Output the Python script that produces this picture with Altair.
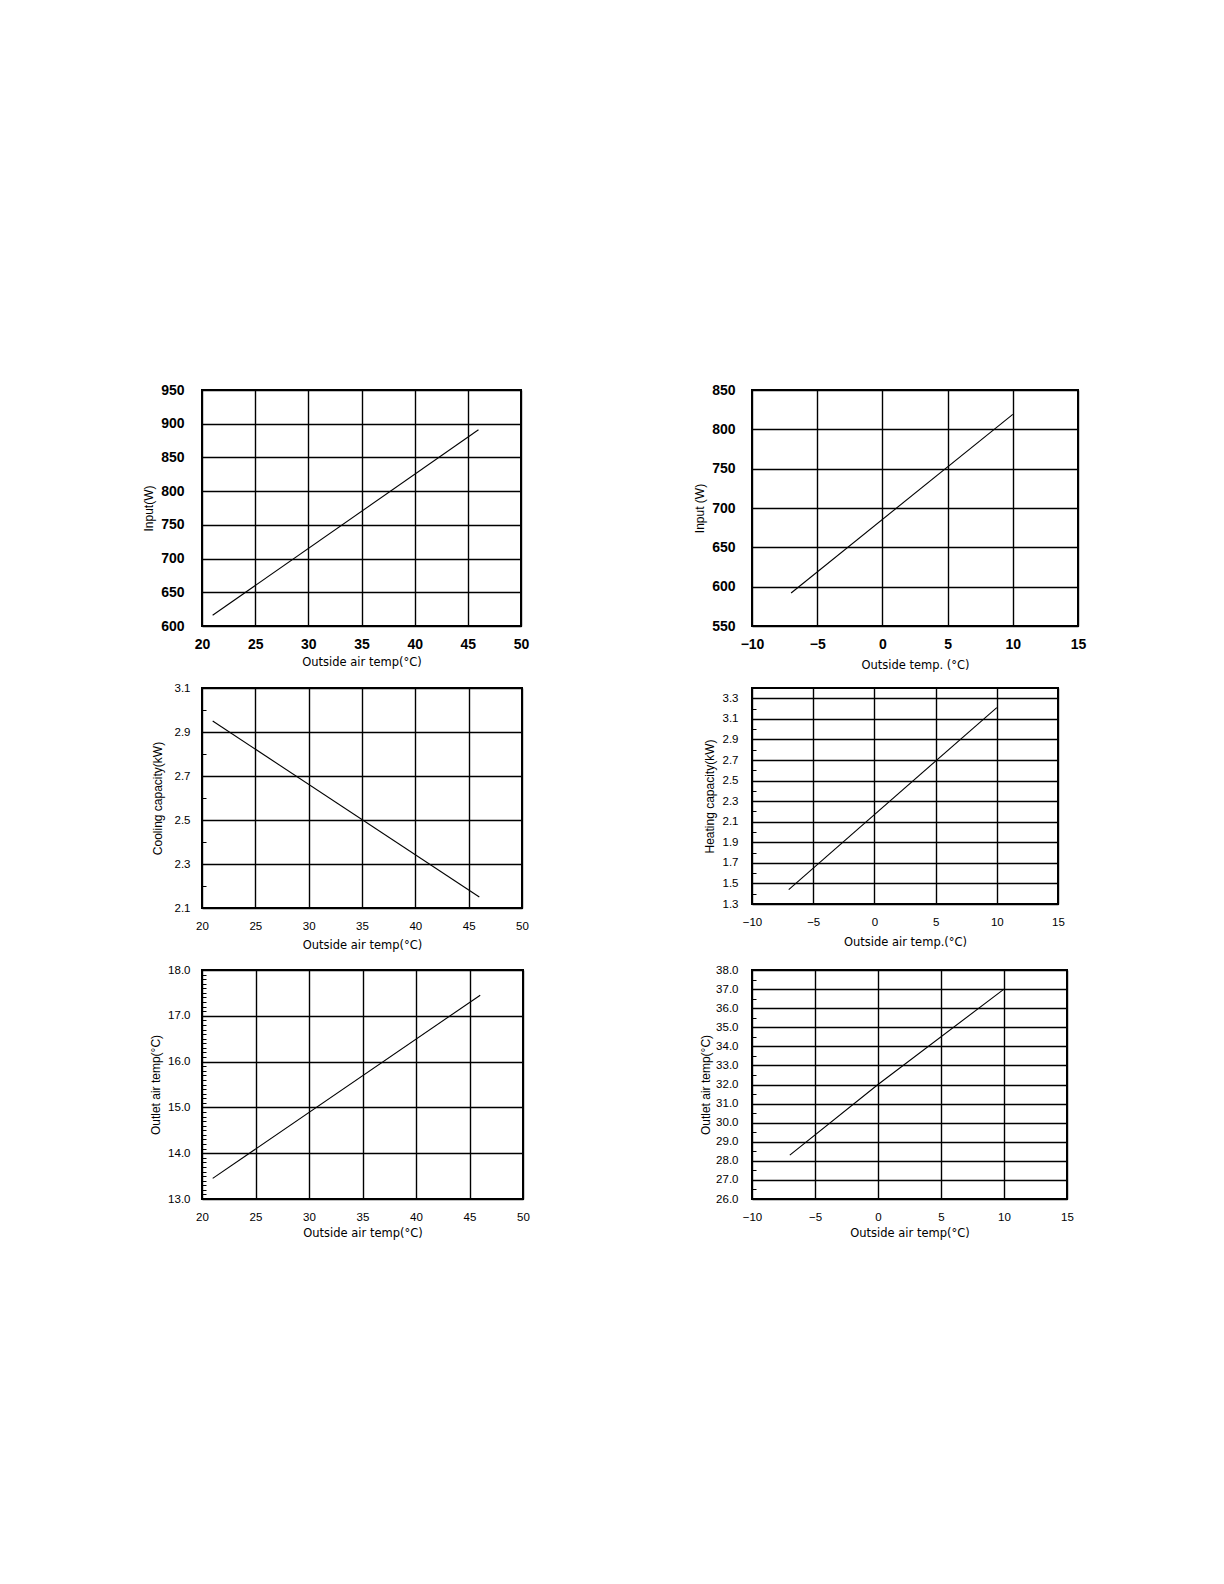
import altair as alt
import pandas as pd

# ---------------- data ----------------
cool_temp = [21, 46]
heat_temp = [-7, 10]
heat_temp_outlet = [-7, 0, 10]

input_cool = [616, 891]
input_heat = [592, 819]
cap_cool = [2.95, 2.15]
cap_heat = [1.44, 3.21]
outlet_cool = [13.45, 17.45]
outlet_heat = [28.3, 32.0, 37.0]

cool_xticks = [20, 25, 30, 35, 40, 45, 50]
heat_xticks = [-10, -5, 0, 5, 10, 15]

input_cool_yticks = [600, 650, 700, 750, 800, 850, 900, 950]
input_heat_yticks = [550, 600, 650, 700, 750, 800, 850]
cap_cool_yticks = [2.1, 2.3, 2.5, 2.7, 2.9, 3.1]
cap_cool_minor = [2.2, 2.4, 2.6, 2.8, 3.0]
cap_heat_yticks = [1.3, 1.5, 1.7, 1.9, 2.1, 2.3, 2.5, 2.7, 2.9, 3.1, 3.3]
cap_heat_minor = [1.4, 1.6, 1.8, 2.0, 2.2, 2.4, 2.6, 2.8, 3.0, 3.2, 3.4]
outlet_cool_yticks = [13, 14, 15, 16, 17, 18]
outlet_cool_minor = [13.1, 13.2, 13.3, 13.4, 13.5, 13.6, 13.7, 13.8, 13.9,
                     14.1, 14.2, 14.3, 14.4, 14.5, 14.6, 14.7, 14.8, 14.9,
                     15.1, 15.2, 15.3, 15.4, 15.5, 15.6, 15.7, 15.8, 15.9,
                     16.1, 16.2, 16.3, 16.4, 16.5, 16.6, 16.7, 16.8, 16.9,
                     17.1, 17.2, 17.3, 17.4, 17.5, 17.6, 17.7, 17.8, 17.9]
outlet_heat_yticks = [26, 27, 28, 29, 30, 31, 32, 33, 34, 35, 36, 37, 38]
outlet_heat_minor = [26.5, 27.5, 28.5, 29.5, 30.5, 31.5, 32.5, 33.5, 34.5,
                     35.5, 36.5, 37.5]

T_COOL = "Outside air temp(°C)"
T_HEAT1 = "Outside temp. (°C)"
T_HEAT2 = "Outside air temp.(°C)"

LABEL_FONT = "Liberation Sans"
TITLE_FONT = "DejaVu Sans"


def panel(xs, ys, xdom, xticks, ydom, yticks, yfmt, xtitle, ytitle, w, h,
          lab_size, lab_weight, xlabpad, ylabpad, ytitle_x, xtitle_y,
          minor=None):
    df = pd.DataFrame({"t": xs, "v": ys})
    xax = alt.Axis(values=xticks, format="d", grid=True, gridColor="black",
                   gridWidth=1.4, gridOpacity=1, ticks=False, tickSize=0,
                   domain=False, labelPadding=xlabpad, labelFont=LABEL_FONT,
                   labelFontSize=lab_size, labelFontWeight=lab_weight,
                   labelColor="black", labelFlush=False, labelOverlap=False,
                   title=xtitle, titleFont=TITLE_FONT, titleFontSize=11.5,
                   titleFontWeight="normal", titleColor="black",
                   titleY=xtitle_y, titleBaseline="middle")
    yax = alt.Axis(values=yticks, format=yfmt, grid=True, gridColor="black",
                   gridWidth=1.4, gridOpacity=1, ticks=False, tickSize=0,
                   domain=False, labelPadding=ylabpad, labelFont=LABEL_FONT,
                   labelFontSize=lab_size, labelFontWeight=lab_weight,
                   labelColor="black", labelFlush=False, labelOverlap=False,
                   title=ytitle, titleFont=LABEL_FONT, titleFontSize=12,
                   titleFontWeight="normal", titleColor="black",
                   titleX=ytitle_x, titleBaseline="middle")
    xsc = alt.Scale(domain=xdom, nice=False, zero=False)
    ysc = alt.Scale(domain=ydom, nice=False, zero=False)
    main = alt.Chart(df).mark_line(color="black", strokeWidth=1.1).encode(
        x=alt.X("t:Q", scale=xsc, axis=xax),
        y=alt.Y("v:Q", scale=ysc, axis=yax),
    )
    if minor is None:
        return main.properties(width=w, height=h)
    minax = alt.Axis(orient="left", offset=-4, values=minor, ticks=True,
                     tickSize=4, tickColor="black", tickWidth=1, labels=False,
                     domain=False, grid=False, title=None)
    mlayer = alt.Chart(df).mark_line(opacity=0).encode(
        x=alt.X("t:Q", scale=xsc, axis=xax),
        y=alt.Y("v:Q", scale=ysc, axis=minax),
    )
    return alt.layer(main, mlayer).resolve_axis(y="independent").properties(
        width=w, height=h)


p1 = panel(cool_temp, input_cool, [20, 50], cool_xticks, [600, 950],
           input_cool_yticks, "d", T_COOL, "Input(W)", 319, 236,
           14, "bold", 11, 18, -54, 36)
p2 = panel(heat_temp, input_heat, [-10, 15], heat_xticks, [550, 850],
           input_heat_yticks, "d", T_HEAT1, "Input (W)", 326, 236,
           14, "bold", 11, 17, -53, 39)
p3 = panel(cool_temp, cap_cool, [20, 50], cool_xticks, [2.1, 3.1],
           cap_cool_yticks, ".1f", T_COOL, "Cooling capacity(kW)", 320, 220,
           11.5, "normal", 12, 12, -45, 37, minor=cap_cool_minor)
p4 = panel(heat_temp, cap_heat, [-10, 15], heat_xticks, [1.3, 3.4],
           cap_heat_yticks, ".1f", T_HEAT2, "Heating capacity(kW)", 306, 216,
           11.5, "normal", 12, 14, -43, 38, minor=cap_heat_minor)
p5 = panel(cool_temp, outlet_cool, [20, 50], cool_xticks, [13, 18],
           outlet_cool_yticks, ".1f", T_COOL, "Outlet air temp(°C)", 321, 229,
           11.5, "normal", 12, 12, -47, 34, minor=outlet_cool_minor)
p6 = panel(heat_temp_outlet, outlet_heat, [-10, 15], heat_xticks, [26, 38],
           outlet_heat_yticks, ".1f", T_COOL, "Outlet air temp(°C)", 315, 229,
           11.5, "normal", 12, 14, -47, 34, minor=outlet_heat_minor)

chart = alt.concat(
    p1, p2, p3, p4, p5, p6,
    columns=2,
    spacing={"row": 62, "column": 229},
    bounds="flush",
).properties(
    padding={"left": 133, "top": 374, "right": 20, "bottom": 300},
    background="white",
).configure_view(stroke="black", strokeWidth=2)

chart.save("out.html", embed_options={"renderer": "svg", "actions": False})
